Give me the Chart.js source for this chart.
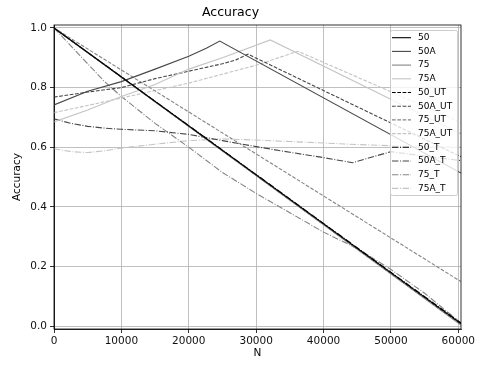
<!DOCTYPE html>
<html lang="en">
<head>
  <meta charset="UTF-8" />
  <title>Accuracy</title>
  <script src="https://cdn.jsdelivr.net/npm/chart.js"></script>
  <style>
    html, body { margin: 0; padding: 0; background: #fff; }
    canvas { display: block; }
  </style>
</head>
<body>
  <canvas id="accChart" width="482" height="366"></canvas>
  <script>
    // values
    const labels = ['50', '50A', '75', '75A', '50_UT', '50A_UT', '75_UT', '75A_UT', '50_T', '50A_T', '75_T', '75A_T'];

    const n50 = [0, 60400];
    const acc50 = [1.0, 0.008];
    const n50A = [0, 5000, 10000, 15000, 20000, 22600, 24600, 60400];
    const acc50A = [0.742, 0.788, 0.82, 0.862, 0.905, 0.932, 0.956, 0.513];
    const n75 = [0, 60400];
    const acc75 = [1.0, 0.003];
    const n75A = [0, 5000, 10000, 15000, 20000, 25000, 32100, 60400];
    const acc75A = [0.685, 0.725, 0.77, 0.81, 0.862, 0.9, 0.96, 0.645];

    const n50UT = [0, 60400];
    const acc50UT = [1.0, 0.005];
    const n50AUT = [0, 5000, 10000, 15000, 20000, 25000, 27000, 28800, 60400];
    const acc50AUT = [0.768, 0.785, 0.80, 0.83, 0.855, 0.88, 0.893, 0.912, 0.568];
    const n75UT = [0, 60400];
    const acc75UT = [1.0, 0.149];
    const n75AUT = [0, 5000, 10000, 15000, 20000, 25000, 30000, 36200, 60400];
    const acc75AUT = [0.716, 0.74, 0.765, 0.79, 0.815, 0.845, 0.875, 0.922, 0.683];

    const n50T = [0, 60400];
    const acc50T = [1.0, 0.01];
    const nT = [0, 2500, 5000, 7500, 10000, 15000, 20000, 25000, 30000, 35000, 40000, 45000, 50000, 55000, 60400];
    const acc75T = [1.0, 0.94, 0.88, 0.82, 0.77, 0.68, 0.6, 0.515, 0.445, 0.38, 0.315, 0.26, 0.19, 0.11, 0.01];
    const acc75AT = [0.595, 0.585, 0.582, 0.588, 0.597, 0.61, 0.622, 0.628, 0.624, 0.619, 0.614, 0.609, 0.605, 0.602, 0.60];
    const n50AT = [0, 2500, 5000, 7500, 10000, 15000, 20000, 25000, 30000, 35000, 40000, 44300, 50000, 55000, 60400];
    const acc50AT = [0.695, 0.68, 0.67, 0.664, 0.66, 0.655, 0.643, 0.622, 0.602, 0.583, 0.565, 0.548, 0.585, 0.57, 0.555];

    const yTicks = [0.0, 0.2, 0.4, 0.6, 0.8, 1.0];
    const xTicks = [0, 10000, 20000, 30000, 40000, 50000, 60000];

    const greys = ['#000000', '#474747', '#858585', '#c4c4c4'];
    const DASHED = [3.7, 1.6];
    const DASHDOT = [6.4, 1.6, 1, 1.6];

    const pts = (xs, ys) => xs.map((x, i) => ({ x: x, y: ys[i] }));
    const series = [
      [n50, acc50], [n50A, acc50A], [n75, acc75], [n75A, acc75A],
      [n50UT, acc50UT], [n50AUT, acc50AUT], [n75UT, acc75UT], [n75AUT, acc75AUT],
      [n50T, acc50T], [n50AT, acc50AT], [nT, acc75T], [nT, acc75AT]
    ];

    const datasets = series.map((s, i) => ({
      label: labels[i],
      data: pts(s[0], s[1]),
      borderColor: greys[i % 4],
      borderWidth: 1.1,
      borderDash: i < 4 ? [] : (i < 8 ? DASHED : DASHDOT),
      pointRadius: 0,
      tension: 0,
      fill: false
    }));

    // matplotlib-like box round the plot plus an inside legend
    const framePlugin = {
      id: 'frame',
      afterDraw(chart) {
        const { ctx, chartArea: a } = chart;
        ctx.save();
        ctx.strokeStyle = '#000';
        ctx.lineWidth = 0.8;
        ctx.strokeRect(a.left, a.top, a.right - a.left, a.bottom - a.top);

        // legend
        const bx = 390, by = 30, bw = 67, bh = 165;
        ctx.fillStyle = 'rgba(255,255,255,0.8)';
        ctx.strokeStyle = '#cccccc';
        ctx.lineWidth = 1;
        ctx.beginPath();
        ctx.roundRect(bx + 0.5, by + 0.5, bw, bh, 2);
        ctx.fill();
        ctx.stroke();
        ctx.font = '9px "DejaVu Sans"';
        ctx.textBaseline = 'middle';
        chart.data.datasets.forEach((ds, i) => {
          const y = 37.7 + i * 13.7;
          ctx.strokeStyle = ds.borderColor;
          ctx.lineWidth = 1.1;
          ctx.setLineDash(ds.borderDash);
          ctx.beginPath();
          ctx.moveTo(392, y);
          ctx.lineTo(411, y);
          ctx.stroke();
          ctx.setLineDash([]);
          ctx.fillStyle = '#000';
          ctx.fillText(ds.label, 418, y);
        });
        ctx.restore();
      }
    };

    new Chart(document.getElementById('accChart').getContext('2d'), {
      type: 'line',
      data: { datasets: datasets },
      plugins: [framePlugin],
      options: {
        responsive: false,
        animation: false,
        devicePixelRatio: 1,
        layout: { padding: { top: 0, right: 21, bottom: 0, left: 0 } },
        plugins: {
          legend: { display: false },
          tooltip: { enabled: false },
          title: {
            display: true,
            text: 'Accuracy',
            color: '#000',
            font: { family: 'DejaVu Sans', size: 12.5, weight: 'normal' },
            padding: { top: 5, bottom: 5 }
          }
        },
        scales: {
          x: {
            type: 'linear',
            min: 0,
            max: 60400,
            afterBuildTicks: s => { s.ticks = xTicks.map(v => ({ value: v })); },
            afterFit: s => { s.height = 37; },
            ticks: {
              color: '#111',
              font: { family: 'DejaVu Sans', size: 10.5 },
              padding: 2,
              maxRotation: 0,
              callback: v => String(v)
            },
            grid: { color: '#b0b0b0', lineWidth: 0.8, tickLength: 4, tickColor: '#000' },
            border: { display: true, color: '#000', width: 0.8 },
            title: {
              display: true,
              text: 'N',
              color: '#000',
              font: { family: 'DejaVu Sans', size: 10.5 },
              padding: { top: 0, bottom: 6 }
            }
          },
          y: {
            min: -0.01,
            max: 1.01,
            afterBuildTicks: s => { s.ticks = yTicks.map(v => ({ value: v })); },
            afterFit: s => { s.width = 54; },
            ticks: {
              color: '#111',
              font: { family: 'DejaVu Sans', size: 10.5 },
              padding: 3,
              callback: v => v.toFixed(1)
            },
            grid: { color: '#b0b0b0', lineWidth: 0.8, tickLength: 4, tickColor: '#000' },
            border: { display: true, color: '#000', width: 0.8 },
            title: {
              display: true,
              text: 'Accuracy',
              color: '#000',
              font: { family: 'DejaVu Sans', size: 10.5 },
              padding: { top: 11, bottom: 0 }
            }
          }
        }
      }
    });
  </script>
</body>
</html>
